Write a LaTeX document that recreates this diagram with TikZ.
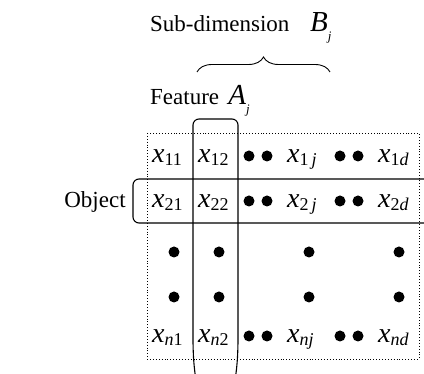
\documentclass[tikz,border=0pt]{standalone}
\usepackage{fontspec}
\setmainfont{Liberation Serif}
\usetikzlibrary{decorations.pathreplacing}

% matrix entry: large italic x with a lowered subscript
\newcommand{\mxent}[1]{{\fontsize{28}{30}\selectfont\itshape x}\raisebox{-0.3em}{\fontsize{18}{20}\selectfont #1}}
\newcommand{\itj}{\textit{j}}
\newcommand{\itn}{\textit{n}}
\newcommand{\itd}{\textit{d}}
% large italic letter with a small lowered italic j
\newcommand{\bigsub}[1]{{\fontsize{29}{30}\selectfont\itshape #1}\raisebox{-0.35em}{\fontsize{13}{14}\selectfont\itshape j}}

\tikzset{
  lbl/.style={inner sep=0pt, anchor=base west, font=\fontsize{23}{26}\selectfont},
  ent/.style={inner sep=0pt, anchor=base west},
  dotmark/.style={circle, fill=black, inner sep=0pt, minimum size=11pt},
  frame/.style={line width=1.1pt, rounded corners=6pt},
  grid/.style={dotted, line width=0.9pt},
}

\begin{document}
\begin{tikzpicture}[x=1pt, y=-1pt]
\useasboundingbox (0,0) rectangle (424,374);
\clip (0,0) rectangle (424,374);

% headings
\node[lbl] (sub) at (150,32) {Sub-dimension\hspace{0.9em}\bigsub{B}};
\node[lbl] (feat) at (150,105) {Feature\hspace{0.4em}\bigsub{A}};
\node[lbl, anchor=base] (obj) at (95,208) {Object};

% brace over the sub-dimension columns
\coordinate (bl) at (197,72);
\coordinate (br) at (330,72);
\draw[decorate, decoration={brace, amplitude=15pt}, line width=0.9pt] (bl) -- (br);

% dotted outline of the data matrix
\draw[grid] (147,133) rectangle (419,359);

% feature column (bracket-like lower ends) and object row
\draw[frame] (196,380) .. controls (193,362) and (193,345) .. (193,330)
  -- (193,119) -- (238,119) -- (238,330)
  .. controls (238,345) and (238,362) .. (235,380);
\draw[frame] (440,179) rectangle (133,223);

% first row
\node[ent] (e11) at (152,163) {\mxent{11}};
\node[ent] (e12) at (198,163) {\mxent{12}};
\node[ent] (e1j) at (287,163) {\mxent{1\,\itj}};
\node[ent] (e1d) at (378,163) {\mxent{1\itd}};
% second row
\node[ent] (e21) at (152,208) {\mxent{21}};
\node[ent] (e22) at (198,208) {\mxent{22}};
\node[ent] (e2j) at (287,208) {\mxent{2\,\itj}};
\node[ent] (e2d) at (378,208) {\mxent{2\itd}};
% last row
\node[ent] (en1) at (152,343) {\mxent{\itn1}};
\node[ent] (en2) at (198,343) {\mxent{\itn2}};
\node[ent] (enj) at (287,343) {\mxent{\itn\itj}};
\node[ent] (end) at (378,343) {\mxent{\itn\itd}};

% horizontal ellipses
\foreach \r/\y in {1/156, 2/201, n/336} {
  \node[dotmark] (ha\r) at (249,\y) {};
  \node[dotmark] (hb\r) at (267,\y) {};
  \node[dotmark] (hc\r) at (340,\y) {};
  \node[dotmark] (hd\r) at (358,\y) {};
}
% vertical ellipses
\foreach \c/\x in {1/174, 2/219, j/309, d/399} {
  \node[dotmark] (va\c) at (\x,252) {};
  \node[dotmark] (vb\c) at (\x,297) {};
}
\end{tikzpicture}
\end{document}
